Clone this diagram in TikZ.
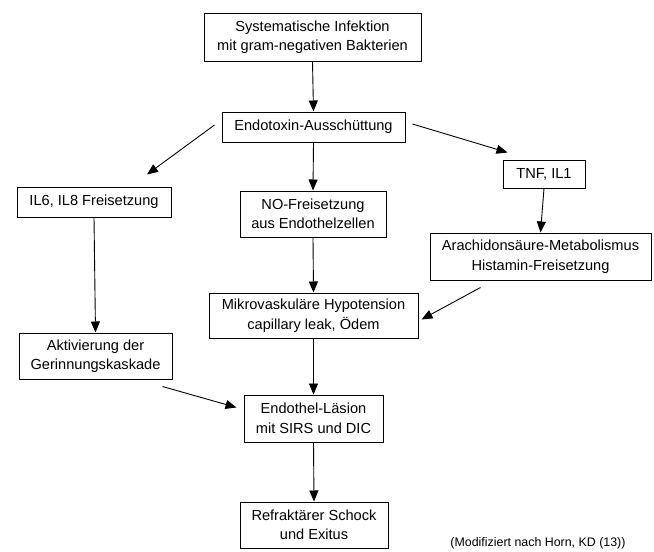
\documentclass[tikz,border=0pt]{standalone}
\usepackage{fontspec}
\setmainfont{Liberation Sans}
\usetikzlibrary{arrows.meta,calc}
\begin{document}
\begin{tikzpicture}[x=1pt,y=-1pt,
  box/.style={draw,line width=1pt,inner sep=0pt,align=center,font=\fontsize{14.6}{19.5}\selectfont},
  arr/.style={line width=0.9pt,-{Triangle[length=11pt,width=9pt]}}]
\useasboundingbox[fill=white] (0,0) rectangle (654,552);
\node[box,minimum width=217pt,minimum height=48pt] (n1) at (312.5,37) {Systematische Infektion\\mit gram-negativen Bakterien};
\node[box,minimum width=183pt,minimum height=30pt] (n2) at (313.5,127) {Endotoxin-Ausschüttung};
\node[box,minimum width=154pt,minimum height=30pt] (n3) at (94,202) {IL6, IL8 Freisetzung};
\node[box,minimum width=146pt,minimum height=46pt] (n4) at (313,214) {NO-Freisetzung\\aus Endothelzellen};
\node[box,minimum width=82pt,minimum height=28pt] (n5) at (544,174) {TNF, IL1};
\node[box,minimum width=221pt,minimum height=47pt] (n6) at (540.5,256.5) {Arachidonsäure-Metabolismus\\Histamin-Freisetzung};
\node[box,minimum width=209pt,minimum height=45pt] (n7) at (313.5,315.5) {Mikrovaskuläre Hypotension\\capillary leak, Ödem};
\node[box,minimum width=153pt,minimum height=46pt] (n8) at (95.5,356) {Aktivierung der\\Gerinnungskaskade};
\node[box,minimum width=139pt,minimum height=47pt] (n9) at (313.5,418.5) {Endothel-Läsion\\mit SIRS und DIC};
\node[box,minimum width=148pt,minimum height=46pt] (n10) at (314,525) {Refraktärer Schock\\und Exitus};
\node[font=\fontsize{12.4}{14}\selectfont] (cap) at (538,543) {(Modifiziert nach Horn, KD (13))};

\draw[arr] (n1.south) -- (n2.north);
\draw[arr] ($(n2.west)+(-7,-2)$) -- ($(n3.north)+(53,-12)$);
\draw[arr] (n2.south) -- (n4.north);
\draw[arr] ($(n2.east)+(7,-3)$) -- ($(n5.north west)+(5,-7)$);
\draw[arr] (n5.south) -- (n6.north);
\draw[arr] (n3.south) -- (n8.north);
\draw[arr] (n4.south) -- (n7.north);
\draw[arr] ($(n6.south)+(-60,7)$) -- ($(n7.east)+(3,4)$);
\draw[arr] (n7.south) -- (n9.north);
\draw[arr] ($(n8.south east)+(-10,7)$) -- ($(n9.west)+(-7,-11)$);
\draw[arr] (n9.south) -- (n10.north);
\end{tikzpicture}
\end{document}
